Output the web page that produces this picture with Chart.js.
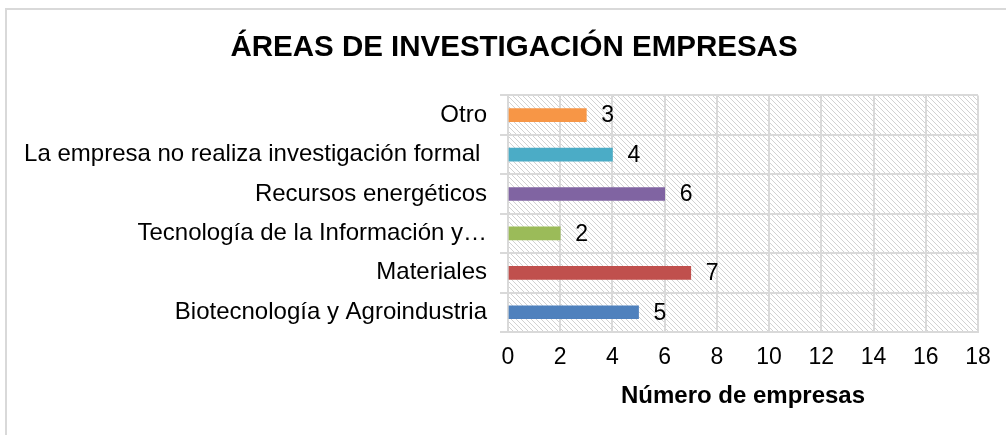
<!DOCTYPE html>
<html>
<head>
<meta charset="utf-8">
<script src="https://cdn.jsdelivr.net/npm/chart.js@4/dist/chart.umd.min.js"></script>
<style>
  html, body { margin: 0; padding: 0; background: #fff; overflow: hidden; }
  #frame { position: absolute; left: 5px; top: 8px; border: 2px solid #d9d9d9; }
  canvas { display: block; }
</style>
</head>
<body>
<div id="frame"><canvas id="chart" width="1014" height="425"></canvas></div>
<script>
// chart data
const categories = [
  'Otro',
  'La empresa no realiza investigación formal ',
  'Recursos energéticos',
  'Tecnología de la Información y…',
  'Materiales',
  'Biotecnología y Agroindustria'
];
const empresas = [3, 4, 6, 2, 7, 5];
const barColors = ['#F79646', '#4BACC6', '#8064A2', '#9BBB59', '#C0504D', '#4F81BD'];
const xTicks = [0, 2, 4, 6, 8, 10, 12, 14, 16, 18];

const FONT = "'Liberation Sans', Arial, sans-serif";

// hatched background of the plot area
function hatchPattern() {
  let tile = document.createElement('canvas');
  tile.width = 5;
  tile.height = 5;
  let t = tile.getContext('2d');
  t.fillStyle = '#fff';
  t.fillRect(0, 0, 5, 5);
  t.fillStyle = '#d2d2d2';
  for (let i = 0; i < 5; i++) {
    t.fillRect(i, i, 1, 1);
  }
  return t.createPattern(tile, 'repeat');
}

const plotBackground = {
  id: 'plotBackground',
  beforeDraw(chart) {
    let a = chart.chartArea;
    let ctx = chart.ctx;
    ctx.save();
    ctx.fillStyle = hatchPattern();
    ctx.fillRect(a.left, a.top, a.right - a.left, a.bottom - a.top);
    ctx.restore();
  }
};

// value labels next to each bar
const valueLabels = {
  id: 'valueLabels',
  afterDatasetsDraw(chart) {
    let ctx = chart.ctx;
    let meta = chart.getDatasetMeta(0);
    ctx.save();
    ctx.font = '23px ' + FONT;
    ctx.fillStyle = '#000';
    ctx.textAlign = 'left';
    ctx.textBaseline = 'middle';
    meta.data.forEach(function (bar, i) {
      ctx.fillText(String(empresas[i]), bar.x + 15, bar.y + 1);
    });
    ctx.restore();
  }
};

const ctx = document.getElementById('chart').getContext('2d');
new Chart(ctx, {
  type: 'bar',
  data: {
    labels: categories,
    datasets: [{
      data: empresas,
      backgroundColor: barColors,
      borderWidth: 0,
      barThickness: 13
    }]
  },
  plugins: [plotBackground, valueLabels],
  options: {
    indexAxis: 'y',
    responsive: false,
    animation: false,
    devicePixelRatio: 1,
    layout: { padding: 0 },
    plugins: {
      legend: { display: false },
      tooltip: { enabled: false },
      title: {
        display: true,
        text: 'ÁREAS DE INVESTIGACIÓN EMPRESAS',
        color: '#000',
        font: { family: FONT, size: 29.5, weight: 'bold' },
        padding: { top: 20, bottom: 30 }
      }
    },
    scales: {
      x: {
        min: 0,
        max: 18,
        afterFit: function (scale) { scale.height = 103; },
        afterBuildTicks: function (scale) {
          scale.ticks = xTicks.map(function (v) { return { value: v }; });
        },
        ticks: {
          color: '#000',
          font: { family: FONT, size: 23 },
          padding: 12
        },
        grid: { color: '#d9d9d9', lineWidth: 2, drawTicks: false },
        border: { color: '#d9d9d9', width: 2 },
        title: {
          display: true,
          text: 'Número de empresas',
          color: '#000',
          font: { family: FONT, size: 24, weight: 'bold' },
          padding: { top: 0, bottom: 24 }
        }
      },
      y: {
        afterFit: function (scale) { scale.width = 501; },
        ticks: {
          color: '#000',
          font: { family: FONT, size: 24 },
          padding: 13,
          autoSkip: false
        },
        grid: { color: '#d9d9d9', lineWidth: 2, tickLength: 8, offset: true },
        border: { color: '#d9d9d9', width: 2 }
      },
      // empty right margin so the title stays centred on the whole frame
      yRight: {
        type: 'category',
        position: 'right',
        afterFit: function (scale) { scale.width = 43; },
        ticks: { display: false },
        grid: { display: false, drawOnChartArea: false },
        border: { display: false }
      }
    }
  }
});
</script>
</body>
</html>
